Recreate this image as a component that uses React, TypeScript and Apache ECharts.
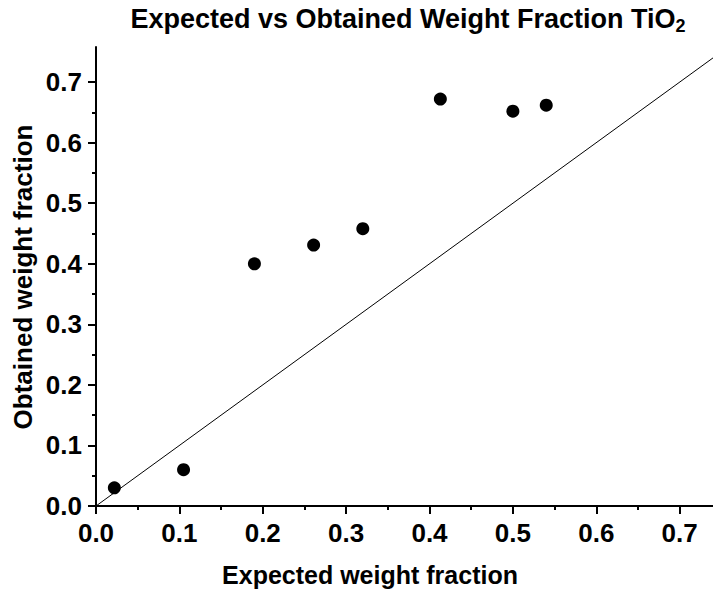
import React, { useEffect, useRef } from "react";
import * as echarts from "echarts";

const expected = [0.022, 0.105, 0.19, 0.261, 0.32, 0.413, 0.5, 0.54];
const obtained = [0.03, 0.06, 0.4, 0.431, 0.458, 0.672, 0.652, 0.662];
const majorTicks = [0, 0.1, 0.2, 0.3, 0.4, 0.5, 0.6, 0.7];
const minorTicks = [0.05, 0.15, 0.25, 0.35, 0.45, 0.55, 0.65];
const xMax = 0.74;
const yMax = 0.758;
const identityLine = [
  [0, 0],
  [0.74, 0.74],
];
const titleMain = "Expected vs Obtained Weight Fraction TiO";
const titleSub = "2";
const xName = "Expected weight fraction";
const yName = "Obtained weight fraction";

const FONT = "'Liberation Sans', Arial, sans-serif";

export default function App() {
  const ref = useRef<HTMLDivElement>(null);
  useEffect(() => {
    document.body.style.margin = "0";
    if (!ref.current) return;
    const chart = echarts.init(ref.current, undefined, { renderer: "svg" });
    const labelStyle = {
      color: "#000",
      fontFamily: FONT,
      fontWeight: "bold" as const,
      fontSize: 26,
    };
    const lineStyle = { color: "#000", width: 2 };
    const mkAxis = (dim: "x" | "y", max: number) => [
      {
        type: "value",
        position: dim === "x" ? "bottom" : "left",
        min: 0,
        max,
        axisLine: { show: true, lineStyle },
        axisTick: { show: true, customValues: majorTicks, length: 8, lineStyle },
        axisLabel: {
          customValues: majorTicks,
          formatter: (v: number) => v.toFixed(1),
          margin: dim === "x" ? 14 : 14,
          ...labelStyle,
        },
        splitLine: { show: false },
      },
      {
        type: "value",
        position: dim === "x" ? "bottom" : "left",
        min: 0,
        max,
        axisLine: { show: false },
        axisTick: { show: true, customValues: minorTicks, length: 4, lineStyle },
        axisLabel: { show: false },
        splitLine: { show: false },
      },
      {
        type: "value",
        position: dim === "x" ? "top" : "right",
        min: 0,
        max,
        axisLine: { show: dim === "x", lineStyle },
        axisTick: { show: false },
        axisLabel: { show: false },
        splitLine: { show: false },
      },
    ];
    const nameStyle = {
      fontFamily: FONT,
      fontWeight: "bold",
      fontSize: 25,
      fill: "#000",
      align: "center",
      verticalAlign: "middle",
    };
    chart.setOption({
      animation: false,
      grid: { left: 96, right: 0, top: 47, bottom: 84, containLabel: false },
      xAxis: mkAxis("x", xMax),
      yAxis: mkAxis("y", yMax),
      graphic: [
        {
          type: "text",
          x: 408,
          y: 19,
          style: {
            text: `{a|${titleMain}}{b|${titleSub}}`,
            align: "center",
            verticalAlign: "middle",
            rich: {
              a: { fontFamily: FONT, fontWeight: "bold", fontSize: 27, color: "#000" },
              b: {
                fontFamily: FONT,
                fontWeight: "bold",
                fontSize: 18,
                color: "#000",
                padding: [14, 0, 0, 0],
              },
            },
          },
        },
        {
          type: "text",
          x: 370,
          y: 575,
          style: { text: xName, ...nameStyle },
        },
        {
          type: "text",
          x: 23,
          y: 277,
          rotation: Math.PI / 2,
          style: { text: yName, ...nameStyle, fontSize: 26 },
        },
      ],
      series: [
        {
          type: "line",
          xAxisIndex: 0,
          yAxisIndex: 0,
          data: identityLine,
          symbol: "none",
          lineStyle: { color: "#000", width: 1 },
          silent: true,
        },
        {
          type: "scatter",
          xAxisIndex: 0,
          yAxisIndex: 0,
          data: expected.map((x, i) => [x, obtained[i]]),
          symbolSize: 13,
          itemStyle: { color: "#000", opacity: 1 },
        },
      ],
    });
    return () => chart.dispose();
  }, []);
  return <div ref={ref} style={{ width: 713, height: 590 }} />;
}
